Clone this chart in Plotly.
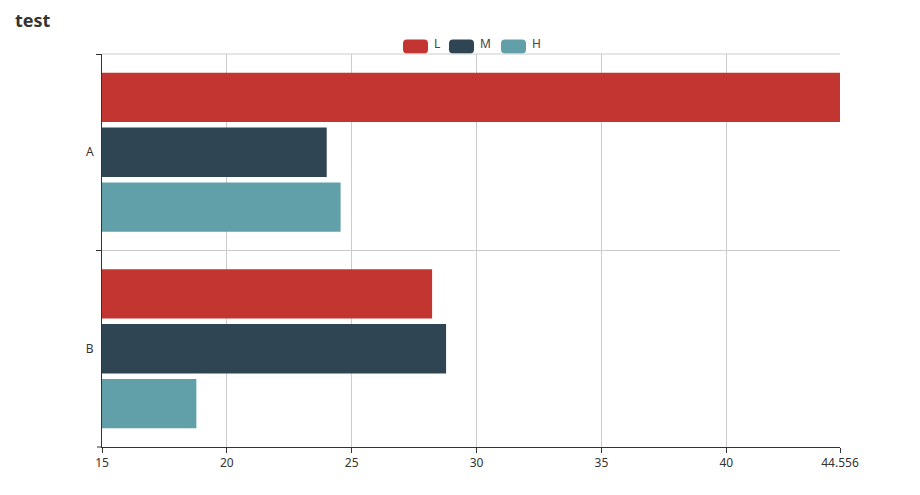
import plotly.graph_objects as go

categories = ["A", "B"]
series_names = ["L", "M", "H"]
values_L = [44.556, 28.22]
values_M = [24.0, 28.78]
values_H = [24.556, 18.78]
colors = ["#c23531", "#2f4554", "#61a0a8"]
x_min, x_max = 15, 44.556
x_tickvals = [15, 20, 25, 30, 35, 40, 44.556]
x_ticktext = ["15", "20", "25", "30", "35", "40", "44.556"]

FONT = "Noto Sans, Open Sans, sans-serif"

fig = go.Figure()
for name, vals, c in zip(series_names, [values_L, values_M, values_H], colors):
    fig.add_trace(go.Bar(
        y=categories, x=vals, name=name, orientation="h",
        marker=dict(color=c, line=dict(width=0)),
        showlegend=False, cliponaxis=True,
    ))

W, H = 920, 495
L_, R_, T_, B_ = 102, 80, 54, 48
pw, ph = W - L_ - R_, H - T_ - B_

def px_to_paper_x(px):
    return (px - L_) / pw

def px_to_paper_y(py):
    return 1 - (py - T_) / ph

legend_x0 = [403, 449, 501]
shapes = []
annotations = []
for x0, name, c in zip(legend_x0, series_names, colors):
    a, b = px_to_paper_x(x0), px_to_paper_x(x0 + 25)
    y0, y1 = px_to_paper_y(39.5), px_to_paper_y(53.5)
    rx, ry = 4 / pw, 4 / ph
    shapes.append(dict(
        type="path", xref="paper", yref="paper",
        path=(f"M{a+rx},{y0} L{b-rx},{y0} Q{b},{y0} {b},{y0-ry} L{b},{y1+ry} "
              f"Q{b},{y1} {b-rx},{y1} L{a+rx},{y1} Q{a},{y1} {a},{y1+ry} L{a},{y0-ry} Q{a},{y0} {a+rx},{y0} Z"),
        fillcolor=c, line=dict(width=0),
    ))
    annotations.append(dict(
        x=px_to_paper_x(x0 + 29), y=px_to_paper_y(43.5), xref="paper", yref="paper",
        text=name, showarrow=False, xanchor="left", yanchor="middle",
        font=dict(family=FONT, size=12, color="#444"),
    ))

# top boundary grid line and bottom boundary tick of category axis
shapes.append(dict(type="line", xref="paper", yref="paper", x0=0, x1=1, y0=1, y1=1,
                   line=dict(color="#ccc", width=1)))
shapes.append(dict(type="line", xref="paper", yref="paper", x0=-5 / pw, x1=0, y0=0, y1=0,
                   line=dict(color="#333", width=1)))

fig.update_layout(
    width=W, height=H,
    margin=dict(l=L_, r=R_, t=T_, b=B_),
    paper_bgcolor="white", plot_bgcolor="white",
    barmode="group", bargap=0.163, bargroupgap=0.10,
    title=dict(text="<b>test</b>", x=15 / W, xanchor="left", y=1 - 21 / H, yanchor="middle",
               font=dict(family=FONT, size=18, color="#333")),
    shapes=shapes, annotations=annotations,
    xaxis=dict(
        range=[x_min, x_max],
        tickvals=x_tickvals, ticktext=x_ticktext,
        showgrid=True, gridcolor="#ccc", gridwidth=1,
        showline=True, linecolor="#333", linewidth=1,
        ticks="outside", ticklen=5, tickcolor="#333",
        tickfont=dict(family=FONT, size=12, color="#333"),
        zeroline=False,
    ),
    yaxis=dict(
        autorange="reversed",
        tickson="boundaries",
        showgrid=True, gridcolor="#ccc", gridwidth=1,
        showline=True, linecolor="#333", linewidth=1,
        ticks="outside", ticklen=5, tickcolor="#333",
        ticklabelstandoff=5,
        tickfont=dict(family=FONT, size=12, color="#333"),
        zeroline=False,
    ),
)

fig.write_html("out.html")
